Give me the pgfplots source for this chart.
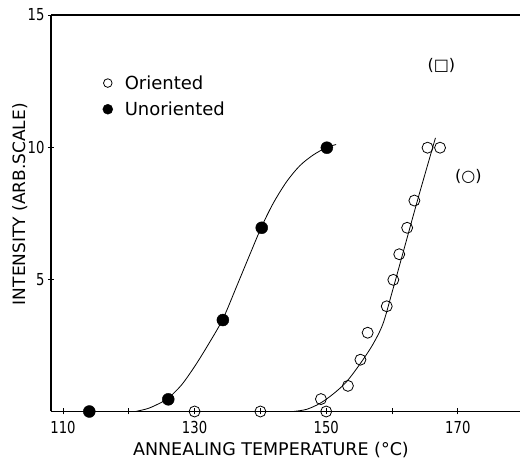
\documentclass[border=0pt]{standalone}
\usepackage{graphicx}
\usepackage{pgfplots}
\pgfplotsset{compat=1.18}
\usepackage{fontspec}
\setmainfont{DejaVu Sans}
\newcommand\tk[1]{\scalebox{0.8}[1]{\fontsize{16.5}{16.5}\selectfont #1}}

\begin{document}
\begin{tikzpicture}
\begin{axis}[
    scale only axis,
    width=469pt, height=396.5pt,
    xmin=108.18, xmax=179.45,
    ymin=0, ymax=15,
    clip=false,
    axis lines=left,
    axis line style={-, line width=1.1pt},
    tick style={line width=0.9pt, black},
    major tick length=6pt,
    xtick={110,120,...,170},
    xticklabels={\tk{110},,\tk{130},,\tk{150},,\tk{170}},
    ytick={5,10,15},
    yticklabels={\tk{5},\tk{10},\tk{15}},
    /pgf/number format/assume math mode=true,
    xticklabel style={yshift=-3pt},
    xlabel={ANNEALING TEMPERATURE (°C)},
    ylabel={INTENSITY (ARB.SCALE)},
    xlabel style={at={(axis description cs:0.469,-0.1122)}, anchor=base, font=\fontsize{17.5}{17.5}\selectfont},
    ylabel style={at={(axis description cs:-0.0554,0.523)}, anchor=base, font=\fontsize{17}{17}\selectfont},
    legend style={at={(0.11,0.853)}, anchor=north west, draw=none, fill=none,
        inner sep=0pt, font=\fontsize{18}{18}\selectfont, row sep=7pt,
        /tikz/every odd column/.append style={column sep=10pt}},
    legend cell align=left,
]
% fitted curves
\addplot[smooth, line width=0.8pt, forget plot] coordinates {
    (121,0) (123,0.12) (125,0.35) (126,0.5) (128,1.0) (130,1.7) (132,2.5)
    (134.3,3.5) (136.5,4.8) (138.5,6.0) (140.2,7.0) (142,7.9) (144,8.7)
    (146,9.3) (148,9.7) (150,9.98) (151.5,10.1)
};
\addplot[smooth, line width=0.8pt, forget plot] coordinates {
    (145,0) (147,0.08) (149,0.3) (151,0.65) (153,1.1) (155,1.75) (157,2.5)
    (158.6,3.3) (160,4.5) (162,6.3) (164,8.1) (166.6,10.35)
};
% oriented
\addplot[only marks, mark=o, mark size=5.5pt, line width=0.8pt,
    legend image post style={mark size=4.3pt}] coordinates {
    (130,0) (140,0) (150,0) (149.2,0.47) (153.3,0.97) (155.2,1.96)
    (156.3,2.98) (159.2,3.98) (160.2,4.98) (161.1,5.95) (162.3,6.95)
    (163.4,7.98) (165.4,9.98) (167.3,9.98)
};
\addlegendentry{Oriented}
% unoriented
\addplot[only marks, mark=*, mark size=6pt,
    legend image post style={mark size=5pt}] coordinates {
    (114,0) (126,0.46) (134.3,3.46) (140.2,6.95) (150.1,9.98)
};
\addlegendentry{Unoriented}
\draw[line width=1.1pt] (rel axis cs:0,1) -- (rel axis cs:1,1);
\node[font=\fontsize{16}{16}\selectfont] at (axis cs:167.5,13.1) {(□)};
\node[font=\fontsize{16}{16}\selectfont] at (axis cs:171.6,8.9) {(○)};
\path (rel axis cs:0,0) ++(-51pt,-48.5pt) rectangle ++(523pt,460pt);
\end{axis}
\end{tikzpicture}
\end{document}
